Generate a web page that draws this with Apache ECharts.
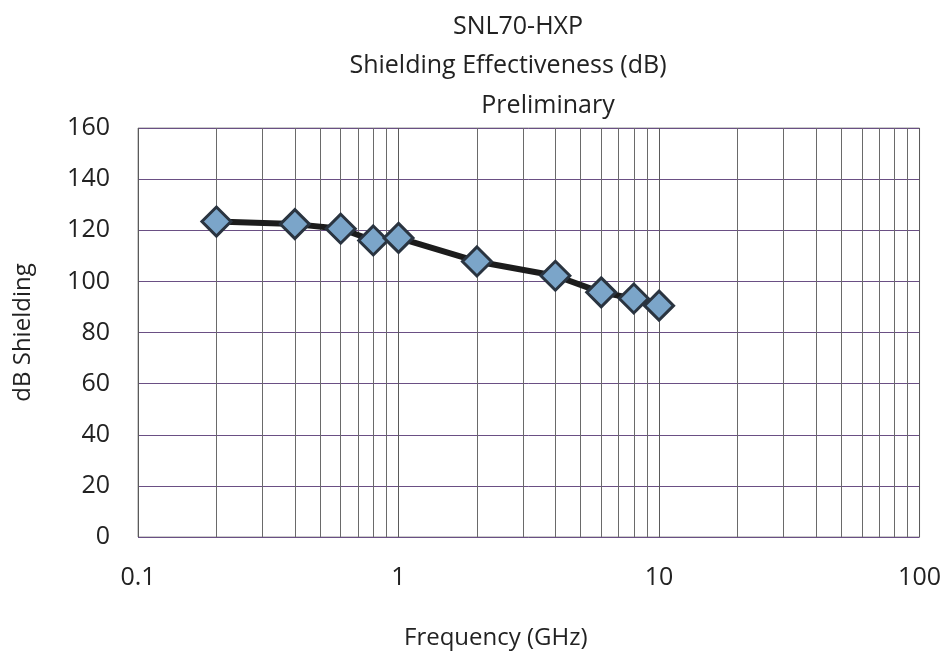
<!DOCTYPE html>
<html>
<head>
<meta charset="utf-8">
<title>SNL70-HXP Shielding Effectiveness</title>
<script src="https://cdn.jsdelivr.net/npm/echarts@6/dist/echarts.min.js"></script>
<style>
  html, body { margin: 0; padding: 0; background: #fff; }
  #chart { width: 944px; height: 655px; }
</style>
</head>
<body>
<div id="chart"></div>
<script>
  // measured frequencies (GHz) and shielding (dB)
  var freqGHz = [0.2, 0.4, 0.6, 0.8, 1.0, 2.0, 4.0, 6.0, 8.0, 10.0]
  var shieldingDb = [123.4, 122.4, 120.6, 116.0, 117.0, 107.8, 102.2, 95.7, 93.3, 90.5]

  // minor log gridlines, 2..9 in each decade
  var minorFreqs = [0.2, 0.3, 0.4, 0.5, 0.6, 0.7, 0.8, 0.9,
    2, 3, 4, 5, 6, 7, 8, 9,
    20, 30, 40, 50, 60, 70, 80, 90]

  var titleLines = ['SNL70-HXP', 'Shielding Effectiveness (dB)', 'Preliminary']

  var font = '"Open Sans", "Noto Sans", sans-serif'
  var myChart = echarts.init(document.getElementById('chart'), null, {renderer: 'canvas'})

  var points = freqGHz.map(function (f, i) { return [f, shieldingDb[i]] })

  function titleText (txt, x, y) {
    return {
      type: 'text', x: x, y: y,
      style: {text: txt, fontSize: 25, fontFamily: font, fill: '#222', align: 'center', verticalAlign: 'middle'}
    }
  }

  var option = {
    backgroundColor: '#fff',
    animation: false,
    textStyle: {fontFamily: font},
    graphic: [
      titleText(titleLines[0], 518, 27),
      titleText(titleLines[1], 508, 66),
      titleText(titleLines[2], 548, 106)
    ],
    grid: {
      left: 138,
      right: 23,
      top: 128,
      bottom: 117,
      show: true,
      borderColor: '#999',
      borderWidth: 1
    },
    xAxis: {
      type: 'log',
      logBase: 10,
      min: 0.1,
      max: 100,
      name: 'Frequency (GHz)',
      nameLocation: 'middle',
      nameGap: 89,
      nameTextStyle: {fontSize: 24, color: '#222', fontFamily: font, padding: [0, 66, 0, 0]},
      axisLine: {show: false},
      axisTick: {show: false},
      axisLabel: {fontSize: 25, color: '#222', margin: 28, fontFamily: font},
      splitLine: {show: true, lineStyle: {color: '#5a5a5a', width: 1}}
    },
    yAxis: {
      type: 'value',
      min: 0,
      max: 160,
      interval: 20,
      name: 'dB Shielding',
      nameLocation: 'middle',
      nameGap: 103,
      nameTextStyle: {fontSize: 24, color: '#222', fontFamily: font},
      axisLine: {show: false},
      axisTick: {show: false},
      axisLabel: {fontSize: 25, color: '#222', margin: 28, fontFamily: font},
      splitLine: {show: true, lineStyle: {color: '#6a4f84', width: 1}}
    },
    series: [
      {
        // minor vertical grid
        type: 'line',
        data: [],
        z: 1,
        silent: true,
        markLine: {
          silent: true,
          symbol: 'none',
          label: {show: false},
          lineStyle: {color: '#6a6a6a', width: 1, type: 'solid'},
          data: minorFreqs.map(function (f) { return {xAxis: f} })
        }
      },
      {
        name: 'Shielding',
        type: 'line',
        z: 5,
        data: points,
        symbol: 'diamond',
        symbolSize: 29,
        lineStyle: {color: '#1c1c1c', width: 6},
        itemStyle: {color: '#7ba5c9', borderColor: '#2a3440', borderWidth: 3}
      }
    ]
  }
  myChart.setOption(option, true)
</script>
</body>
</html>
